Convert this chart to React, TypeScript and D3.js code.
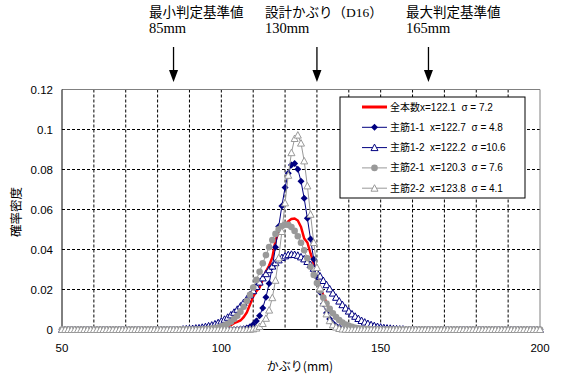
import React from "react";
import * as d3 from "d3";

// かぶり (mm), 1mm step
const coverMm = d3.range(50, 201);

// 確率密度 per series, one value per coverMm entry (50..200)
const allBars = [
  0, 0, 0, 0, 0, 0, 0, 0, 0, 0,
  0, 0, 0, 0, 0, 0, 0, 0, 0, 0,
  0, 0, 0, 0, 0, 0, 0, 0, 0, 0,
  0, 0, 0, 0, 0, 0, 0, 0, 0, 0,
  0, 0, 0, 0, 0, 0, 0, 0, 0, 0,
  0.0005, 0.001, 0.0015, 0.0022, 0.0032, 0.0038, 0.0045, 0.0062, 0.0085, 0.0125,
  0.0165, 0.0192, 0.021, 0.025, 0.029, 0.032, 0.036, 0.0445, 0.049, 0.051,
  0.052, 0.054, 0.0553, 0.0555, 0.0545, 0.0513, 0.0455, 0.0435, 0.038, 0.033,
  0.0265, 0.021, 0.017, 0.0135, 0.01, 0.0078, 0.0058, 0.004, 0.0028, 0.0018,
  0.0011, 0.0006, 0.0003, 0, 0, 0, 0, 0, 0, 0,
  0, 0, 0, 0, 0, 0, 0, 0, 0, 0,
  0, 0, 0, 0, 0, 0, 0, 0, 0, 0,
  0, 0, 0, 0, 0, 0, 0, 0, 0, 0,
  0, 0, 0, 0, 0, 0, 0, 0, 0, 0,
  0, 0, 0, 0, 0, 0, 0, 0, 0, 0,
  0,
];

const main11 = [
  0, 0, 0, 0, 0, 0, 0, 0, 0, 0,
  0, 0, 0, 0, 0, 0, 0, 0, 0, 0,
  0, 0, 0, 0, 0, 0, 0, 0, 0, 0,
  0, 0, 0, 0, 0, 0, 0, 0, 0, 0,
  0, 0, 0, 0, 0, 0, 0, 0, 0, 0,
  0, 0, 0, 0, 0, 0.0001, 0.0002, 0.0004, 0.0008, 0.0014,
  0.0025, 0.0043, 0.0069, 0.0108, 0.0161, 0.023, 0.0314, 0.0411, 0.0515, 0.0618,
  0.071, 0.0781, 0.0822, 0.083, 0.0801, 0.0741, 0.0656, 0.0556, 0.0452, 0.0351,
  0.0261, 0.0186, 0.0127, 0.0083, 0.0052, 0.0031, 0.0018, 0.001, 0.0005, 0.0003,
  0.0001, 0, 0, 0, 0, 0, 0, 0, 0, 0,
  0, 0, 0, 0, 0, 0, 0, 0, 0, 0,
  0, 0, 0, 0, 0, 0, 0, 0, 0, 0,
  0, 0, 0, 0, 0, 0, 0, 0, 0, 0,
  0, 0, 0, 0, 0, 0, 0, 0, 0, 0,
  0, 0, 0, 0, 0, 0, 0, 0, 0, 0,
  0,
];

const main12 = [
  0, 0, 0, 0, 0, 0, 0, 0, 0, 0,
  0, 0, 0, 0, 0, 0, 0, 0, 0, 0,
  0, 0, 0, 0, 0, 0, 0, 0, 0, 0,
  0, 0, 0, 0, 0, 0, 0, 0, 0.0002, 0.0003,
  0.0004, 0.0005, 0.0007, 0.0008, 0.0011, 0.0014, 0.0018, 0.0022, 0.0028, 0.0034,
  0.0042, 0.0051, 0.0061, 0.0073, 0.0086, 0.0101, 0.0117, 0.0135, 0.0153, 0.0173,
  0.0194, 0.0215, 0.0237, 0.0258, 0.0279, 0.0299, 0.0317, 0.0334, 0.0348, 0.036,
  0.0368, 0.0374, 0.0376, 0.0375, 0.0371, 0.0363, 0.0353, 0.034, 0.0324, 0.0306,
  0.0287, 0.0267, 0.0245, 0.0224, 0.0203, 0.0182, 0.0161, 0.0142, 0.0124, 0.0107,
  0.0092, 0.0078, 0.0066, 0.0055, 0.0045, 0.0037, 0.003, 0.0024, 0.0019, 0.0015,
  0.0012, 0.0009, 0.0007, 0.0006, 0.0004, 0.0003, 0.0002, 0.0002, 0, 0,
  0, 0, 0, 0, 0, 0, 0, 0, 0, 0,
  0, 0, 0, 0, 0, 0, 0, 0, 0, 0,
  0, 0, 0, 0, 0, 0, 0, 0, 0, 0,
  0, 0, 0, 0, 0, 0, 0, 0, 0, 0,
  0,
];

const main21 = [
  0, 0, 0, 0, 0, 0, 0, 0, 0, 0,
  0, 0, 0, 0, 0, 0, 0, 0, 0, 0,
  0, 0, 0, 0, 0, 0, 0, 0, 0, 0,
  0, 0, 0, 0, 0, 0, 0, 0, 0, 0,
  0, 0, 0, 0, 0.0001, 0.0002, 0.0003, 0.0005, 0.0007, 0.001,
  0.0015, 0.0021, 0.0029, 0.0039, 0.0053, 0.0069, 0.0089, 0.0114, 0.0142, 0.0174,
  0.021, 0.0248, 0.0289, 0.0331, 0.0372, 0.0412, 0.0447, 0.0478, 0.0501, 0.0517,
  0.0525, 0.0523, 0.0512, 0.0493, 0.0466, 0.0434, 0.0396, 0.0356, 0.0314, 0.0273,
  0.0232, 0.0195, 0.016, 0.013, 0.0103, 0.0081, 0.0062, 0.0047, 0.0035, 0.0025,
  0.0018, 0.0013, 0.0009, 0.0006, 0.0004, 0.0003, 0.0002, 0, 0, 0,
  0, 0, 0, 0, 0, 0, 0, 0, 0, 0,
  0, 0, 0, 0, 0, 0, 0, 0, 0, 0,
  0, 0, 0, 0, 0, 0, 0, 0, 0, 0,
  0, 0, 0, 0, 0, 0, 0, 0, 0, 0,
  0, 0, 0, 0, 0, 0, 0, 0, 0, 0,
  0,
];

const main22 = [
  0, 0, 0, 0, 0, 0, 0, 0, 0, 0,
  0, 0, 0, 0, 0, 0, 0, 0, 0, 0,
  0, 0, 0, 0, 0, 0, 0, 0, 0, 0,
  0, 0, 0, 0, 0, 0, 0, 0, 0, 0,
  0, 0, 0, 0, 0, 0, 0, 0, 0, 0,
  0, 0, 0, 0, 0, 0, 0, 0, 0, 0.0001,
  0.0003, 0.0007, 0.0015, 0.003, 0.0056, 0.0097, 0.0159, 0.0246, 0.0358, 0.049,
  0.0633, 0.0771, 0.0884, 0.0955, 0.0972, 0.0932, 0.0843, 0.0718, 0.0576, 0.0435,
  0.031, 0.0208, 0.0132, 0.0078, 0.0044, 0.0023, 0.0012, 0.0005, 0.0002, 0.0001,
  0, 0, 0, 0, 0, 0, 0, 0, 0, 0,
  0, 0, 0, 0, 0, 0, 0, 0, 0, 0,
  0, 0, 0, 0, 0, 0, 0, 0, 0, 0,
  0, 0, 0, 0, 0, 0, 0, 0, 0, 0,
  0, 0, 0, 0, 0, 0, 0, 0, 0, 0,
  0, 0, 0, 0, 0, 0, 0, 0, 0, 0,
  0,
];

const legendLabels = [
  "全本数x=122.1  σ = 7.2",
  "主筋1-1  x=122.7  σ = 4.8",
  "主筋1-2  x=122.2  σ =10.6",
  "主筋2-1  x=120.3  σ = 7.6",
  "主筋2-2  x=123.8  σ = 4.1",
];

const xTicks = [50, 100, 150, 200];
const yTicks = [0, 0.02, 0.04, 0.06, 0.08, 0.1, 0.12];

// 判定基準 arrows
const markerValues = [85, 130, 165];
const markerTitles = ["最小判定基準値", "設計かぶり（D16）", "最大判定基準値"];
const markerSubs = ["85mm", "130mm", "165mm"];

const NAVY = "#000080";
const GRAY = "#999999";

const series = [
  { values: allBars, color: "#ff0000", width: 2.5, marker: "none" },
  { values: main11, color: NAVY, width: 1, marker: "diamond" },
  { values: main12, color: NAVY, width: 1, marker: "triangle" },
  { values: main21, color: GRAY, width: 1, marker: "circle" },
  { values: main22, color: GRAY, width: 1, marker: "triangle" },
];

const Marker = ({ type, x, y, color }) => {
  if (type === "diamond")
    return <path d={`M${x},${y - 3.5}L${x + 3.5},${y}L${x},${y + 3.5}L${x - 3.5},${y}Z`} fill={color} />;
  if (type === "circle") return <circle cx={x} cy={y} r={3.3} fill={color} />;
  if (type === "triangle")
    return (
      <path
        d={`M${x},${y - 3.5}L${x + 3.5},${y + 3}L${x - 3.5},${y + 3}Z`}
        fill="white"
        stroke={color}
        strokeWidth={1}
      />
    );
  return null;
};

export default function App() {
  const W = 575;
  const H = 386;
  const plot = { left: 62, right: 540, top: 89.5, bottom: 329.5 };

  const x = d3.scaleLinear().domain([50, 200]).range([plot.left, plot.right]);
  const y = d3.scaleLinear().domain([0, 0.12]).range([plot.bottom, plot.top]);

  const line = d3
    .line<number>()
    .x((_, i) => x(coverMm[i]))
    .y((d) => y(d));

  const gridX = d3.range(60, 200, 10);
  const gridY = yTicks.slice(1, -1);

  const legend = { x: 340, y: 97, w: 185, h: 101 };
  const latinSans = "'Liberation Sans', Arial, 'Noto Sans CJK JP', sans-serif";
  const titleFont = "'Liberation Serif', 'Noto Sans CJK JP', serif";
  const textX = [149, 265, 406];

  return (
    <svg
      width={W}
      height={H}
      style={{ position: "absolute", left: 0, top: 0, background: "white" }}
    >
      <rect width={W} height={H} fill="white" />

      {/* arrows + texts above the plot */}
      {markerValues.map((v, i) => (
        <g key={v}>
          <text x={textX[i]} y={16.5} fontSize={13.5} fontFamily={titleFont}>
            {markerTitles[i]}
          </text>
          <text x={textX[i]} y={33} fontSize={14.5} fontFamily={titleFont}>
            {markerSubs[i]}
          </text>
          <line x1={x(v)} x2={x(v)} y1={47} y2={72} stroke="black" strokeWidth={1.3} />
          <path d={`M${x(v) - 4.5},${70}L${x(v) + 4.5},${70}L${x(v)},${82}Z`} fill="black" />
        </g>
      ))}

      {/* grid */}
      {gridX.map((g) => (
        <line
          key={"gx" + g}
          x1={x(g)}
          x2={x(g)}
          y1={plot.top}
          y2={plot.bottom}
          stroke="black"
          strokeDasharray="3,2"
        />
      ))}
      {gridY.map((g) => (
        <line
          key={"gy" + g}
          x1={plot.left}
          x2={plot.right}
          y1={y(g)}
          y2={y(g)}
          stroke="black"
          strokeDasharray="3,2"
        />
      ))}

      {/* plot border */}
      <line x1={plot.left} x2={plot.right} y1={plot.top} y2={plot.top} stroke="#808080" />
      <line x1={plot.right} x2={plot.right} y1={plot.top} y2={plot.bottom} stroke="#808080" />
      <line x1={plot.left} x2={plot.left} y1={plot.top} y2={plot.bottom} stroke="black" />
      <line x1={plot.left} x2={plot.right} y1={plot.bottom} y2={plot.bottom} stroke="black" />

      {/* series */}
      {series.map((s, si) => (
        <g key={si}>
          <path d={line(s.values) ?? ""} fill="none" stroke={s.color} strokeWidth={s.width} />
          {s.values.map((v, i) => (
            <Marker key={i} type={s.marker} x={x(coverMm[i])} y={y(v)} color={s.color} />
          ))}
        </g>
      ))}

      {/* y axis ticks */}
      {yTicks.map((t) => (
        <text
          key={"yt" + t}
          x={53}
          y={y(t) + 4}
          textAnchor="end"
          fontSize={11.5}
          fontFamily={latinSans}
        >
          {String(t)}
        </text>
      ))}
      {xTicks.map((t) => (
        <text
          key={"xt" + t}
          x={x(t)}
          y={351.5}
          textAnchor="middle"
          fontSize={11.5}
          fontFamily={latinSans}
        >
          {t}
        </text>
      ))}

      <text
        transform="translate(21,212) rotate(-90)"
        textAnchor="middle"
        fontSize={12.5}
        fontFamily="'Noto Sans CJK JP', sans-serif"
      >
        確率密度
      </text>
      <text x={300} y={370.5} textAnchor="middle" fontSize={12} fontFamily="'Noto Sans CJK JP', sans-serif">
        かぶり(mm)
      </text>

      {/* legend */}
      <rect x={legend.x} y={legend.y} width={legend.w} height={legend.h} fill="white" stroke="black" />
      {series.map((s, i) => {
        const ly = 107 + i * 20.3;
        return (
          <g key={"lg" + i}>
            <line x1={362} x2={387} y1={ly} y2={ly} stroke={s.color} strokeWidth={s.width === 1 ? 1 : 3} />
            <Marker type={s.marker} x={374.5} y={ly} color={s.color} />
            <text
              x={390}
              y={ly + 3.5}
              fontSize={10}
              fontFamily={latinSans}
              style={{ whiteSpace: "pre" }}
            >
              {legendLabels[i]}
            </text>
          </g>
        );
      })}
    </svg>
  );
}
